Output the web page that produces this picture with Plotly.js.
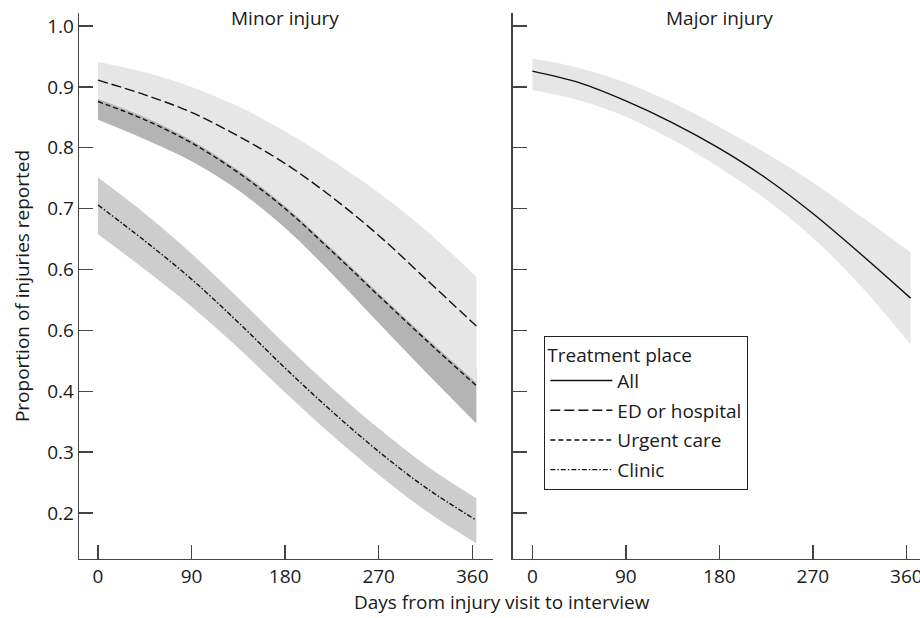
<!DOCTYPE html>
<html>
<head>
<meta charset="utf-8">
<script src="https://cdn.plot.ly/plotly-3.0.1.min.js"></script>
<style>html,body{margin:0;padding:0;background:#fff}#chart{width:920px;height:618px}</style>
</head>
<body>
<div id="chart"></div>
<script>
// Days from injury visit to interview
const days = [0, 45, 90, 135, 180, 225, 270, 315, 364];

// Minor injury
const edLine     = [0.911, 0.887, 0.858, 0.819, 0.774, 0.719, 0.656, 0.585, 0.507];
const edUpper    = [0.941, 0.924, 0.900, 0.868, 0.827, 0.779, 0.726, 0.665, 0.588];
const edLower    = [0.880, 0.850, 0.812, 0.763, 0.704, 0.634, 0.561, 0.489, 0.414];
const urgentLine = [0.876, 0.846, 0.808, 0.759, 0.700, 0.630, 0.557, 0.485, 0.409];
const urgentUpper= [0.906, 0.876, 0.838, 0.789, 0.730, 0.660, 0.587, 0.515, 0.439];
const urgentLower= [0.846, 0.814, 0.778, 0.730, 0.668, 0.593, 0.512, 0.432, 0.347];
const clinicLine = [0.706, 0.647, 0.584, 0.513, 0.438, 0.367, 0.301, 0.242, 0.188];
const clinicUpper= [0.751, 0.692, 0.626, 0.553, 0.477, 0.405, 0.339, 0.279, 0.224];
const clinicLower= [0.658, 0.600, 0.539, 0.471, 0.398, 0.328, 0.263, 0.204, 0.150];

// Major injury
const allLine  = [0.926, 0.907, 0.877, 0.841, 0.799, 0.750, 0.692, 0.627, 0.553];
const allUpper = [0.947, 0.931, 0.907, 0.874, 0.834, 0.791, 0.743, 0.689, 0.628];
const allLower = [0.895, 0.878, 0.851, 0.813, 0.767, 0.715, 0.652, 0.575, 0.477];

// Tick labels (as printed in the original figure)
const xTickVals = [0, 90, 180, 270, 360];
const xTickText = ['0', '90', '180', '270', '360'];
const yTickVals = [0.2, 0.3, 0.4, 0.5, 0.6, 0.7, 0.8, 0.9, 1.0];
const yTickText = ['0.2', '0.3', '0.4', '0.6', '0.6', '0.7', '0.8', '0.9', '1.0'];

const FONT = 'Open Sans, Liberation Sans, sans-serif';
const TXT = '#1a1a1a';

function band(lower, upper, color, xa, ya) {
  return [
    {x: days, y: lower, xaxis: xa, yaxis: ya, type: 'scatter', mode: 'lines',
     line: {width: 0, shape: 'spline', color: color}, showlegend: false, hoverinfo: 'skip'},
    {x: days, y: upper, xaxis: xa, yaxis: ya, type: 'scatter', mode: 'lines',
     fill: 'tonexty', fillcolor: color,
     line: {width: 0, shape: 'spline', color: color}, showlegend: false, hoverinfo: 'skip'}
  ];
}
function curve(y, name, dash, xa, ya, grp) {
  return {x: days, y: y, xaxis: xa, yaxis: ya, type: 'scatter', mode: 'lines', name: name,
          legendgroup: grp,
          line: {color: '#111', width: 1.4, dash: dash, shape: 'spline'}};
}

const data = [].concat(
  band(urgentLower, urgentUpper, '#b4b4b4', 'x', 'y'),
  band(edLower, edUpper, '#e6e6e6', 'x', 'y'),
  band(clinicLower, clinicUpper, '#cdcdcd', 'x', 'y'),
  band(allLower, allUpper, '#e6e6e6', 'x2', 'y2'),
  [
    curve(allLine, 'All', 'solid', 'x2', 'y2', 'g1'),
    curve(edLine, 'ED or hospital', '10px,4px', 'x', 'y', 'g2'),
    curve(urgentLine, 'Urgent care', '5px,3px', 'x', 'y', 'g3'),
    curve(clinicLine, 'Clinic', '5px,2px,1.5px,2px', 'x', 'y', 'g4')
  ]
);

const axCommon = {
  showgrid: false, zeroline: false, showline: true, linecolor: '#444', linewidth: 1.3,
  ticks: 'inside', ticklen: 14, tickwidth: 1.3, tickcolor: '#444',
  tickfont: {family: FONT, size: 19, color: TXT}, fixedrange: true,
  ticklabeloverflow: 'allow'
};

const layout = {
  width: 920, height: 618,
  paper_bgcolor: '#fff', plot_bgcolor: '#fff',
  margin: {l: 79, r: 0, t: 13, b: 59},
  showlegend: true,
  font: {family: FONT, size: 19, color: TXT},
  xaxis: Object.assign({}, axCommon, {domain: [0, 0.4923], range: [-18.3, 380],
    tickmode: 'array', tickvals: xTickVals, ticktext: xTickText, anchor: 'y'}),
  yaxis: Object.assign({}, axCommon, {domain: [0, 1], range: [0.1244, 1.0214],
    tickmode: 'array', tickvals: yTickVals, ticktext: yTickText, anchor: 'x',
    title: {text: 'Proportion of injuries reported', font: {family: FONT, size: 19, color: TXT}, standoff: 12}}),
  xaxis2: Object.assign({}, axCommon, {domain: [0.5157, 1], range: [-18.9, 373.1],
    tickmode: 'array', tickvals: xTickVals, ticktext: xTickText, anchor: 'y2'}),
  yaxis2: Object.assign({}, axCommon, {domain: [0, 1], range: [0.1244, 1.0214],
    tickmode: 'array', tickvals: yTickVals, showticklabels: false, anchor: 'x2'}),
  legend: {
    x: 0.5533, y: 0.4084, xanchor: 'left', yanchor: 'top',
    bgcolor: '#fff', bordercolor: '#222', borderwidth: 1,
    font: {family: FONT, size: 19, color: TXT},
    title: {text: 'Treatment place', font: {family: FONT, size: 19, color: TXT}},
    traceorder: 'grouped', tracegroupgap: 2, itemwidth: 62
  },
  annotations: [
    {text: 'Minor injury', xref: 'x', yref: 'paper', x: 180, y: 0.990, xanchor: 'center', yanchor: 'middle',
     showarrow: false, font: {family: FONT, size: 19, color: TXT}},
    {text: 'Major injury', xref: 'x2', yref: 'paper', x: 180, y: 0.990, xanchor: 'center', yanchor: 'middle',
     showarrow: false, font: {family: FONT, size: 19, color: TXT}},
    {text: 'Days from injury visit to interview', xref: 'paper', yref: 'paper', x: 0.503, y: -0.0788,
     xanchor: 'center', yanchor: 'middle', showarrow: false, font: {family: FONT, size: 19, color: TXT}}
  ]
};

Plotly.newPlot('chart', data, layout, {displayModeBar: false, staticPlot: true});
</script>
</body>
</html>
